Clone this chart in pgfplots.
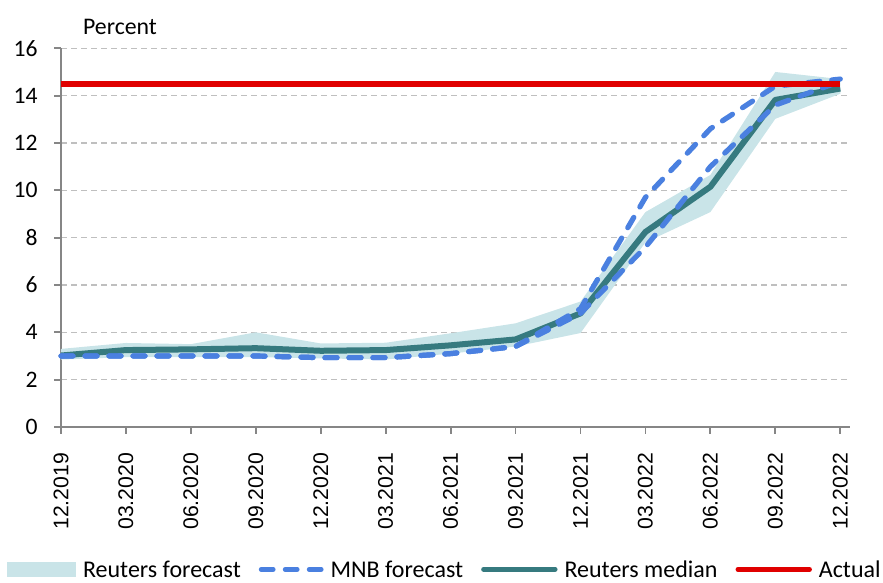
\documentclass[border=0pt]{standalone}
\usepackage{pgfplots}
\pgfplotsset{compat=1.18}
\usepgfplotslibrary{fillbetween}
\usepackage{pgfplotstable}
\usepackage{fontspec}
\setmainfont{Carlito}
\newfontfamily\arialfont{Liberation Sans}
\definecolor{bandc}{RGB}{201,228,232}
\definecolor{mnbc}{RGB}{74,128,224}
\definecolor{tealc}{RGB}{54,122,127}
\definecolor{redc}{RGB}{224,0,0}
\definecolor{gridc}{RGB}{191,191,191}
\definecolor{axc}{RGB}{134,134,134}

\pgfplotstableread{
x lo hi med mnba mnbb act
0 2.85 3.30 3.02 3.00 3.00 14.5
1 2.95 3.55 3.25 3.00 3.00 14.5
2 2.95 3.50 3.28 3.00 3.00 14.5
3 2.95 4.00 3.33 3.00 3.00 14.5
4 2.90 3.53 3.22 2.93 2.93 14.5
5 2.85 3.56 3.25 2.93 2.93 14.5
6 3.10 3.96 3.45 3.10 3.10 14.5
7 3.40 4.38 3.70 3.40 3.40 14.5
8 3.97 5.30 4.80 5.00 4.80 14.5
9 7.80 9.08 8.24 9.70 7.60 14.5
10 9.08 10.65 10.15 12.60 11.00 14.5
11 13.02 15.00 13.82 14.40 13.60 14.5
12 14.08 14.70 14.30 14.70 14.60 14.5
}\datatab

\begin{document}
\begin{tikzpicture}
\begin{axis}[
  at={(0pt,0pt)}, anchor=south west,
  scale only axis, width=394.5pt, height=189.35pt,
  xmin=0, xmax=12.15, ymin=0, ymax=16,
  axis x line*=bottom, axis y line*=left,
  axis line style={axc, line width=0.9pt, -},
  tick align=outside, major tick length=3.5pt,
  tick style={axc, line width=0.9pt},
  xtick={0,...,12},
  xticklabels={12.2019,03.2020,06.2020,09.2020,12.2020,03.2021,06.2021,09.2021,12.2021,03.2022,06.2022,09.2022,12.2022},
  xticklabel style={font=\arialfont\fontsize{10.6}{12}\selectfont, rotate=90, anchor=east, inner sep=0pt, xshift=-9.3pt},
  ytick={0,2,...,16},
  yticklabel style={font=\fontsize{11.8}{13}\selectfont, anchor=east, inner sep=0pt, xshift=-8pt},
  /pgf/number format/assume math mode=true,
  ymajorgrids,
  grid style={gridc, line width=0.6pt, dash pattern=on 3pt off 2pt},
  clip=false,
  legend columns=4,
  legend style={draw=none, fill=none, inner sep=0pt, outer sep=0pt,
    at={(axis description cs:-0.0681,-0.376)}, anchor=west,
    font=\fontsize{12}{13}\selectfont,
    nodes={inner sep=0pt, text height=8pt, text depth=0pt},
    /tikz/every odd column/.append style={column sep=3.5pt},
    /tikz/every even column/.append style={column sep=9pt}},
]
\addlegendimage{legend image code/.code={\fill[bandc] (0pt,-3.4pt) rectangle (34pt,3.4pt);}}
\addlegendentry{Reuters forecast}
\addlegendimage{legend image code/.code={\draw[mnbc, line width=2.4pt, line cap=round, dash pattern=on 6pt off 6pt] (1.25pt,0pt) -- (31.25pt,0pt);}}
\addlegendentry{MNB forecast}
\addlegendimage{legend image code/.code={\draw[tealc, line width=2.4pt, line cap=round] (0pt,0pt) -- (35.8pt,0pt);}}
\addlegendentry{Reuters median}
\addlegendimage{legend image code/.code={\draw[redc, line width=2.4pt, line cap=round] (0pt,0pt) -- (35.8pt,0pt);}}
\addlegendentry{Actual}

\addplot[name path=hi, draw=none, forget plot] table[x=x, y=hi] {\datatab};
\addplot[name path=lo, draw=none, forget plot] table[x=x, y=lo] {\datatab};
\addplot[bandc, forget plot] fill between[of=hi and lo];
\addplot[tealc, line width=3pt, line join=round, forget plot] table[x=x, y=med] {\datatab};
\addplot[mnbc, line width=2.6pt, line cap=round, line join=round, dash pattern=on 6pt off 6pt, forget plot] table[x=x, y=mnba] {\datatab};
\addplot[mnbc, line width=2.6pt, line cap=round, line join=round, dash pattern=on 6pt off 6pt, forget plot] table[x=x, y=mnbb] {\datatab};
\addplot[redc, line width=3pt, forget plot] table[x=x, y=act] {\datatab};

\node[anchor=base west, inner sep=0pt, font=\fontsize{11.9}{13}\selectfont] at (rel axis cs:0,1) [xshift=10.85pt, yshift=6.9pt] {Percent};
\end{axis}
\pgfresetboundingbox
\path[use as bounding box] (-30.5pt,-78pt) rectangle (411pt,213.5pt);
\end{tikzpicture}
\end{document}
